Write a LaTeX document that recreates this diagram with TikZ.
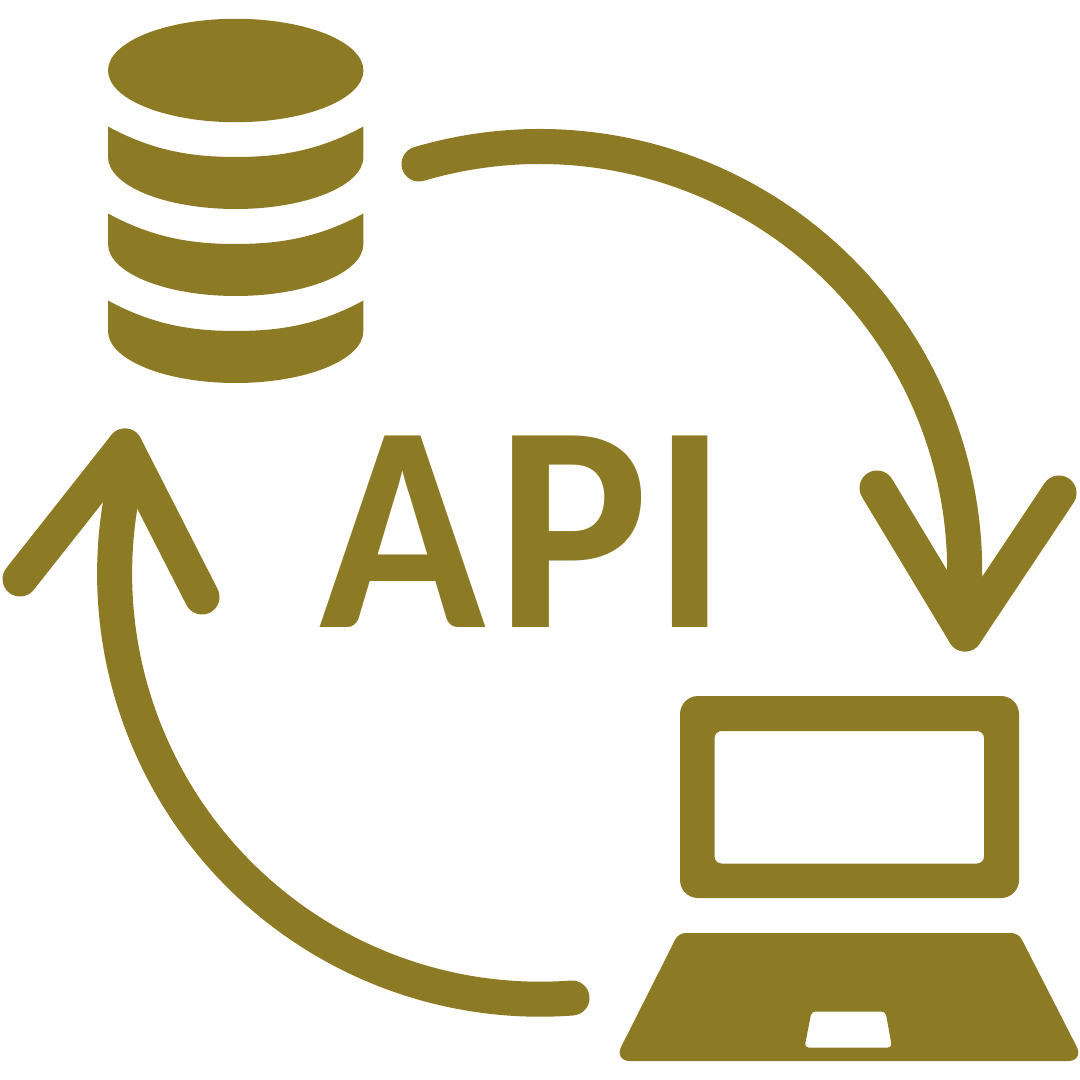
\documentclass[tikz,border=0pt]{standalone}
\usepackage{fontspec}
\newfontfamily\apifont{Carlito}
\definecolor{olive}{HTML}{8D7A24}
\tikzset{
  iconfill/.style={fill=olive,draw=none,even odd rule},
  arcline/.style={draw=olive,line width=0.35cm,line cap=round,line join=round},
  apiletter/.style={text=olive,inner sep=0pt,anchor=base west,font=\apifont\fontsize{84}{84}\selectfont\bfseries},
  disk/.pic={
    \fill[olive](-127.7,0)..controls(-82,25)and(-42,30.5)..(0,30.5)..controls(42,30.5)and(82,25)..(127.7,0)
      --(127.7,30.5)arc[start angle=0,end angle=180,x radius=127.7,y radius=52]--cycle;
  }
}
\begin{document}
\begin{tikzpicture}[x=0.01cm,y=-0.01cm]
\useasboundingbox(0,0)rectangle(1080,1080);
% database
\fill[olive](235.7,70.5)ellipse[x radius=127.7,y radius=51.7];
\foreach \ytop in {126.5,213.5,300.5}
  \pic at(235.7,\ytop){disk};
% arrows
\coordinate(tipdown)at(965,634);
\coordinate(tipup)at(125,446);
\draw[arcline](419,164)arc[start angle=-106.5,end angle=0,radius=425]--(tipdown);
\draw[arcline](877,488)--(tipdown)--(1059,493);
\draw[arcline](572,998)arc[start angle=85.7,end angle=190,radius=425.5]--(tipup);
\draw[arcline](20,579)--(tipup)--(202,597);
% label
\node(apiA)[apiletter,xscale=0.93]at(319,627){A};
\node(apiP)[apiletter,xscale=0.97]at(496,627){P};
\node(apiI)[apiletter,xscale=0.93]at(653,627){I};
% laptop
\path[iconfill][rounded corners=0.18cm](680,696)rectangle(1019,898)
  [rounded corners=0.07cm](714.5,731)rectangle(984,863.5);
\path[iconfill][rounded corners=0.07cm](678.5,933)--(1018.5,933)[rounded corners=0.16cm]--(1084,1061)--(614,1061)[rounded corners=0.07cm]--cycle
  [rounded corners=0.04cm](811.5,1011.5)--(885.5,1011.5)--(892,1047.5)--(804.5,1047.5)--cycle;
\end{tikzpicture}
\end{document}
